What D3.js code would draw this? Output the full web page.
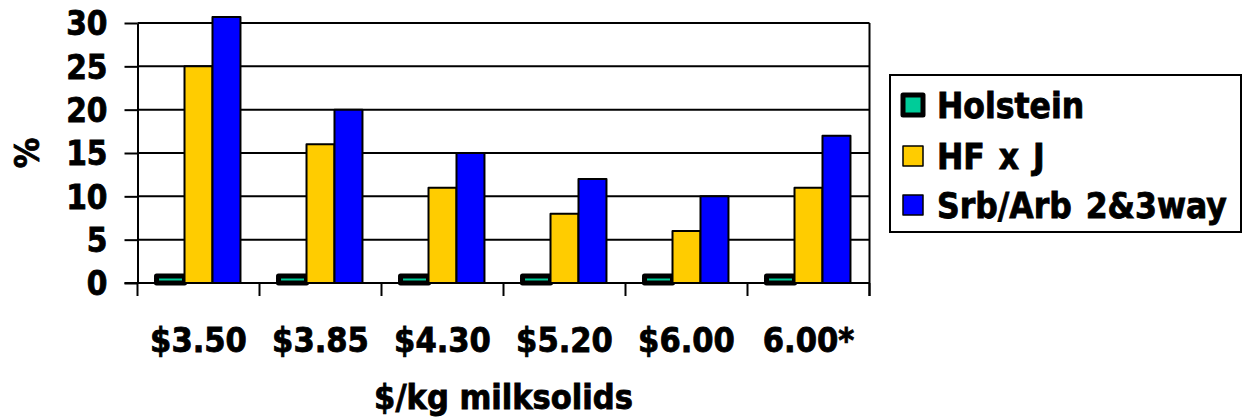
<!DOCTYPE html>
<html>
<head>
<meta charset="utf-8">
<script src="https://cdn.jsdelivr.net/npm/d3@7"></script>
<style>
  html, body { margin: 0; padding: 0; background: #fff; }
  svg { display: block; }
  text { font-family: "DejaVu Sans Condensed", "DejaVu Sans", Verdana, sans-serif; font-stretch: condensed; font-weight: bold; fill: #000; stroke: #000; stroke-width: 0.8px; }
</style>
</head>
<body>
<svg id="chart" width="1247" height="418"></svg>
<script>
const categories = ["$3.50", "$3.85", "$4.30", "$5.20", "$6.00", "6.00*"];
const seriesNames = ["Holstein", "HF x J", "Srb/Arb 2&3way"];
const holstein = [0.8, 0.8, 0.8, 0.8, 0.8, 0.8];
const hfxj = [25, 16, 11, 8, 6, 11];
const srbArb = [30.7, 20, 15, 12, 10, 17];
const yTicks = [0, 5, 10, 15, 20, 25, 30];
const colors = ["#00CC99", "#FFCC00", "#0000FF"];
const xTitle = "$/kg milksolids";
const yTitle = "%";

const seriesValues = [holstein, hfxj, srbArb];
const svg = d3.select("#chart");

const plot = { left: 137.5, right: 869.5, top: 23, bottom: 283 };

const x0 = d3.scaleBand().domain(categories).range([plot.left, plot.right]).padding(0);
const x1 = d3.scaleBand().domain(seriesNames).range([0, x0.bandwidth()])
  .paddingInner(0).paddingOuter(0.68);
const y = d3.scaleLinear().domain([0, 30]).range([plot.bottom, plot.top]);

// gridlines
svg.append("g").selectAll("line").data(yTicks.filter(d => d > 0)).join("line")
  .attr("x1", plot.left).attr("x2", plot.right)
  .attr("y1", d => y(d)).attr("y2", d => y(d))
  .attr("stroke", "#000").attr("stroke-width", 2);

// right border
svg.append("line").attr("x1", plot.right).attr("x2", plot.right)
  .attr("y1", y(30)).attr("y2", plot.bottom + 13)
  .attr("stroke", "#000").attr("stroke-width", 2);

// y axis
const yAxis = svg.append("g").attr("transform", `translate(${plot.left},0)`)
  .call(d3.axisLeft(y).tickValues(yTicks).tickSize(13).tickSizeOuter(0).tickPadding(17));
yAxis.select(".domain").attr("stroke", "#000").attr("stroke-width", 2);
yAxis.selectAll(".tick line").attr("stroke", "#000").attr("stroke-width", 2);
yAxis.selectAll(".tick text").attr("font-size", 33).attr("font-family", null)
  .attr("fill", "#000").attr("dy", "0.36em");

// bars
const groups = svg.append("g").selectAll("g").data(categories).join("g")
  .attr("transform", c => `translate(${x0(c)},0)`);
seriesNames.forEach((s, si) => {
  groups.append("rect")
    .attr("x", x1(s))
    .attr("width", x1.bandwidth())
    .attr("y", (c, ci) => y(seriesValues[si][ci]))
    .attr("height", (c, ci) => y(0) - y(seriesValues[si][ci]))
    .attr("fill", colors[si])
    .attr("stroke", "#000")
    .attr("stroke-width", si === 0 ? 5 : 2)
    .attr("stroke-linejoin", "round");
});

// x axis line and ticks
const xAxis = svg.append("g").attr("transform", `translate(0,${plot.bottom})`);
xAxis.append("line").attr("x1", plot.left - 13).attr("x2", plot.right)
  .attr("y1", 0).attr("y2", 0).attr("stroke", "#000").attr("stroke-width", 2);
const tickPos = categories.map(c => x0(c)).concat([x0(categories[categories.length - 1]) + x0.bandwidth()]);
xAxis.selectAll("line.tk").data(tickPos).join("line").attr("class", "tk")
  .attr("x1", d => d).attr("x2", d => d).attr("y1", 0).attr("y2", 13)
  .attr("stroke", "#000").attr("stroke-width", 2);
xAxis.selectAll("text").data(categories).join("text")
  .attr("x", c => x0(c) + x0.bandwidth() / 2)
  .attr("y", 69)
  .attr("text-anchor", "middle")
  .attr("font-size", 34)
  .text(d => d);

// axis titles
svg.append("text").attr("x", (plot.left + plot.right) / 2).attr("y", 409)
  .attr("text-anchor", "middle").attr("font-size", 34).text(xTitle);
svg.append("text").attr("transform", `translate(39,${(plot.top + plot.bottom) / 2}) rotate(-90)`)
  .attr("text-anchor", "middle").attr("font-size", 34).text(yTitle);

// legend
const legend = svg.append("g");
legend.append("rect").attr("x", 890).attr("y", 75).attr("width", 351).attr("height", 157)
  .attr("fill", "#fff").attr("stroke", "#000").attr("stroke-width", 2);
const rowBase = [118, 169, 218];
seriesNames.forEach((s, i) => {
  legend.append("rect")
    .attr("x", 903).attr("y", rowBase[i] - 23)
    .attr("width", 20).attr("height", 20)
    .attr("fill", colors[i]).attr("stroke", "#000")
    .attr("stroke-width", i === 0 ? 5 : 1.5)
    .attr("stroke-linejoin", "round");
  legend.append("text").attr("x", 937).attr("y", rowBase[i])
    .attr("font-size", 35).attr("word-spacing", 3).text(s);
});
</script>
</body>
</html>
